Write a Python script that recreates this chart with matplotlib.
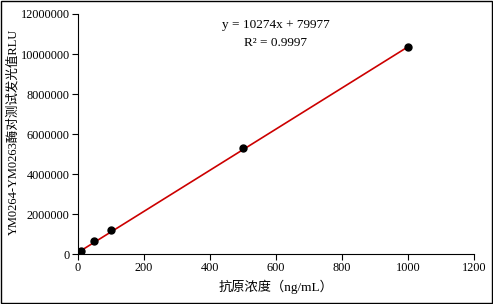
import numpy as np
import matplotlib.pyplot as plt
from matplotlib.patches import Rectangle
from matplotlib.ticker import FormatStrFormatter

plt.rcParams['font.family'] = ['Liberation Serif', 'Noto Sans CJK SC']

conc = [0, 5, 10, 50, 100, 500, 1000]
rlu = [20000, 90000, 170000, 650000, 1220000, 5300000, 10330000]
slope = 10274
intercept = 79977
r2 = 0.9997

fig = plt.figure(figsize=(4.93, 3.04), dpi=100)
ax = fig.add_axes([0.158, 0.164, 0.803, 0.79])

xfit = np.array([0, 1000])
ax.plot(xfit, slope * xfit + intercept, color='#cc0000', lw=1.2, zorder=2)
ax.plot(conc, rlu, 'o', color='black', ms=5, zorder=3)

ax.set_xlim(0, 1200)
ax.set_ylim(0, 12000000)
ax.set_xticks(range(0, 1201, 200))
ax.set_yticks(range(0, 12000001, 2000000))
ax.yaxis.set_major_formatter(FormatStrFormatter('%d'))
ax.tick_params(labelsize=8.8, direction='out', length=4, width=0.8, pad=2)
ax.spines['top'].set_visible(False)
ax.spines['right'].set_visible(False)

ax.set_xlabel('抗原浓度（ng/mL）', fontsize=9.5, labelpad=4)
fig.text(13 / 493, 0.565, 'YM0264-YM0263酶对测试发光值RLU', rotation=90,
         ha='center', va='center', fontsize=9)

ax.text(0.5, 0.955, 'y = 10274x + 79977', transform=ax.transAxes,
        ha='center', va='center', fontsize=9.5)
ax.text(0.5, 0.88, 'R² = %.4f' % r2, transform=ax.transAxes,
        ha='center', va='center', fontsize=9.5)

fig.patches.append(Rectangle((0.002, 0.003), 0.996, 0.994, transform=fig.transFigure,
                             fill=False, edgecolor='black', lw=1))

fig.savefig('out.png', dpi=100)
